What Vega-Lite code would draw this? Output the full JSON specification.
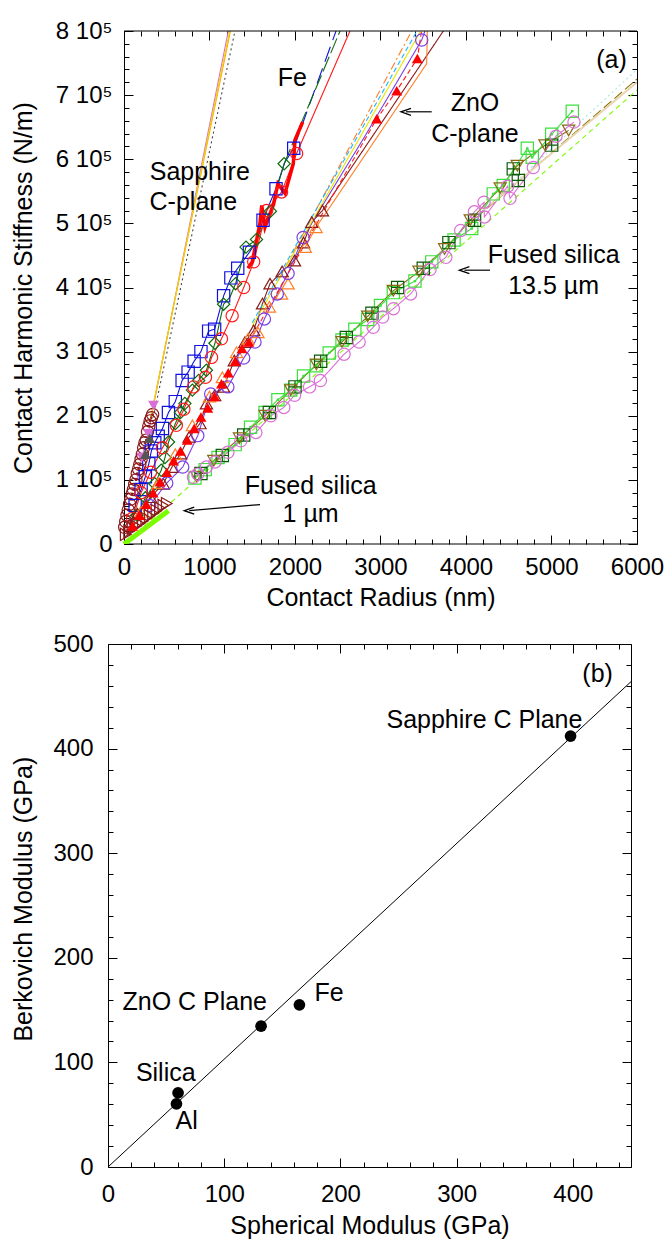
{
  "$schema": "https://vega.github.io/schema/vega-lite/v6.json",
  "padding": {"left": 11, "top": 19, "right": 0, "bottom": 0},
  "autosize": {"type": "pad"},
  "spacing": 21,
  "config": {
    "font": "Liberation Sans",
    "view": {"stroke": null},
    "axis": {
      "labelFont": "Liberation Sans", "titleFont": "Liberation Sans",
      "labelFontSize": 24, "titleFontSize": 25, "titleFontWeight": "normal",
      "labelColor": "#000", "titleColor": "#000", "domainColor": "#000", "tickColor": "#000",
      "grid": false, "tickWidth": 1, "domainWidth": 1, "labelOverlap": false, "labelFlush": false
    },
    "text": {"font": "Liberation Sans", "fontSize": 25, "color": "#000", "baseline": "middle", "align": "center"}
  },
  "datasets": {
    "frameA": [{"x":0,"x2":6000,"y":0},{"x":0,"x2":6000,"y":800000}],
    "thin": [
      {"series":"SapPink","x":150,"y":100000},{"series":"SapPink","x":209,"y":135000},{"series":"SapPink","x":285,"y":172000},{"series":"SapPink","x":345,"y":216000},{"series":"SapPink","x":1220,"y":800000},
      {"series":"SapOrange","x":300,"y":190000},{"series":"SapOrange","x":1245,"y":800000},
      {"series":"SapYellow","x":310,"y":195000},{"series":"SapYellow","x":1235,"y":800000},
      {"series":"SapGray","x":330,"y":190000},{"series":"SapGray","x":1298,"y":800000},
      {"series":"FeBlue","x":130,"y":60000},{"series":"FeBlue","x":200,"y":85000},{"series":"FeBlue","x":250,"y":105000},{"series":"FeBlue","x":290,"y":125000},{"series":"FeBlue","x":320,"y":145000},{"series":"FeBlue","x":360,"y":158000},{"series":"FeBlue","x":400,"y":168000},{"series":"FeBlue","x":450,"y":180000},{"series":"FeBlue","x":520,"y":205000},{"series":"FeBlue","x":600,"y":222000},{"series":"FeBlue","x":680,"y":255000},{"series":"FeBlue","x":750,"y":268000},{"series":"FeBlue","x":820,"y":285000},{"series":"FeBlue","x":900,"y":300000},{"series":"FeBlue","x":990,"y":332000},{"series":"FeBlue","x":1060,"y":335000},{"series":"FeBlue","x":1165,"y":387000},{"series":"FeBlue","x":1250,"y":415000},{"series":"FeBlue","x":1330,"y":430000},{"series":"FeBlue","x":1467,"y":455000},{"series":"FeBlue","x":1540,"y":470000},{"series":"FeBlue","x":1626,"y":505000},{"series":"FeBlue","x":1700,"y":530000},{"series":"FeBlue","x":1778,"y":554000},{"series":"FeBlue","x":1880,"y":595000},{"series":"FeBlue","x":1985,"y":617000},
      {"series":"FeBlueFit","x":1985,"y":617000},{"series":"FeBlueFit","x":2480,"y":800000},
      {"series":"FeGreen","x":150,"y":45000},{"series":"FeGreen","x":250,"y":72000},{"series":"FeGreen","x":360,"y":94000},{"series":"FeGreen","x":435,"y":115000},{"series":"FeGreen","x":480,"y":135000},{"series":"FeGreen","x":521,"y":159000},{"series":"FeGreen","x":601,"y":188000},{"series":"FeGreen","x":660,"y":205000},{"series":"FeGreen","x":712,"y":219000},{"series":"FeGreen","x":800,"y":240000},{"series":"FeGreen","x":873,"y":255000},{"series":"FeGreen","x":964,"y":271000},{"series":"FeGreen","x":1064,"y":313000},{"series":"FeGreen","x":1165,"y":374000},{"series":"FeGreen","x":1240,"y":385000},{"series":"FeGreen","x":1305,"y":406000},{"series":"FeGreen","x":1427,"y":463000},{"series":"FeGreen","x":1550,"y":475000},{"series":"FeGreen","x":1640,"y":500000},{"series":"FeGreen","x":1712,"y":519000},{"series":"FeGreen","x":1800,"y":560000},{"series":"FeGreen","x":1873,"y":593000},
      {"series":"FeGreenFit","x":1873,"y":593000},{"series":"FeGreenFit","x":2527,"y":800000},
      {"series":"FeRed","x":100,"y":40000},{"series":"FeRed","x":200,"y":80000},{"series":"FeRed","x":310,"y":112000},{"series":"FeRed","x":450,"y":150000},{"series":"FeRed","x":612,"y":185000},{"series":"FeRed","x":700,"y":210000},{"series":"FeRed","x":813,"y":245000},{"series":"FeRed","x":953,"y":260000},{"series":"FeRed","x":1024,"y":291000},{"series":"FeRed","x":1140,"y":320000},{"series":"FeRed","x":1265,"y":356000},{"series":"FeRed","x":1400,"y":400000},{"series":"FeRed","x":1517,"y":440000},{"series":"FeRed","x":1668,"y":520000},{"series":"FeRed","x":1843,"y":549000},{"series":"FeRed","x":2019,"y":609000},{"series":"FeRed","x":2643,"y":800000},
      {"series":"ZnMaroon","x":60,"y":30000},{"series":"ZnMaroon","x":159,"y":47000},{"series":"ZnMaroon","x":310,"y":73000},{"series":"ZnMaroon","x":461,"y":94000},{"series":"ZnMaroon","x":561,"y":120000},{"series":"ZnMaroon","x":662,"y":141000},{"series":"ZnMaroon","x":762,"y":167000},{"series":"ZnMaroon","x":889,"y":188000},{"series":"ZnMaroon","x":964,"y":219000},{"series":"ZnMaroon","x":1060,"y":232000},{"series":"ZnMaroon","x":1165,"y":245000},{"series":"ZnMaroon","x":1290,"y":286000},{"series":"ZnMaroon","x":1415,"y":315000},{"series":"ZnMaroon","x":1517,"y":333000},{"series":"ZnMaroon","x":1620,"y":375000},{"series":"ZnMaroon","x":1708,"y":406000},{"series":"ZnMaroon","x":1850,"y":425000},{"series":"ZnMaroon","x":1994,"y":442000},{"series":"ZnMaroon","x":2100,"y":470000},{"series":"ZnMaroon","x":2196,"y":502000},{"series":"ZnMaroon","x":2321,"y":520000},{"series":"ZnMaroon","x":3735,"y":800000},
      {"series":"ZnOrange","x":2120,"y":463000},{"series":"ZnOrange","x":2246,"y":494000},{"series":"ZnOrange","x":2411,"y":526000},{"series":"ZnOrange","x":3540,"y":749000},{"series":"ZnOrange","x":3548,"y":800000},
      {"series":"ZnOrangeDD","x":1800,"y":410000},{"series":"ZnOrangeDD","x":3365,"y":800000},
      {"series":"ZnPurple","x":300,"y":60000},{"series":"ZnPurple","x":500,"y":95000},{"series":"ZnPurple","x":687,"y":120000},{"series":"ZnPurple","x":863,"y":169000},{"series":"ZnPurple","x":1014,"y":234000},{"series":"ZnPurple","x":1215,"y":245000},{"series":"ZnPurple","x":1400,"y":290000},{"series":"ZnPurple","x":1532,"y":315000},{"series":"ZnPurple","x":1642,"y":351000},{"series":"ZnPurple","x":1793,"y":390000},{"series":"ZnPurple","x":1919,"y":422000},{"series":"ZnPurple","x":2095,"y":478000},{"series":"ZnPurple","x":2400,"y":545000},{"series":"ZnPurple","x":2800,"y":632000},{"series":"ZnPurple","x":3200,"y":722000},{"series":"ZnPurple","x":3482,"y":786000},{"series":"ZnPurple","x":3520,"y":800000},
      {"series":"ZnRedDash","x":1460,"y":315000},{"series":"ZnRedDash","x":2956,"y":663000},{"series":"ZnRedDash","x":3190,"y":707000},{"series":"ZnRedDash","x":3431,"y":757000},{"series":"ZnRedDash","x":3480,"y":800000},
      {"series":"ZnCyan","x":1500,"y":345000},{"series":"ZnCyan","x":3427,"y":800000},
      {"series":"ZnYellow","x":1500,"y":340000},{"series":"ZnYellow","x":3470,"y":800000},
      {"series":"FSGreenDash","x":0,"y":0},{"series":"FSGreenDash","x":6000,"y":708000},
      {"series":"FSCyanDot","x":3000,"y":370000},{"series":"FSCyanDot","x":6000,"y":740000},
      {"series":"FSOlive","x":4000,"y":495000},{"series":"FSOlive","x":6000,"y":725000},
      {"series":"FSBrown","x":850,"y":105000},{"series":"FSBrown","x":1050,"y":130000},{"series":"FSBrown","x":1350,"y":165000},{"series":"FSBrown","x":1650,"y":200000},{"series":"FSBrown","x":1950,"y":240000},{"series":"FSBrown","x":2250,"y":280000},{"series":"FSBrown","x":2550,"y":315000},{"series":"FSBrown","x":2850,"y":355000},{"series":"FSBrown","x":3150,"y":395000},{"series":"FSBrown","x":3450,"y":425000},{"series":"FSBrown","x":3750,"y":460000},{"series":"FSBrown","x":4050,"y":505000},{"series":"FSBrown","x":4400,"y":555000},{"series":"FSBrown","x":4600,"y":590000},{"series":"FSBrown","x":4924,"y":622000},{"series":"FSBrown","x":5200,"y":645000},
      {"series":"FSPink","x":813,"y":104000},{"series":"FSPink","x":863,"y":109000},{"series":"FSPink","x":964,"y":120000},{"series":"FSPink","x":1064,"y":128000},{"series":"FSPink","x":1215,"y":143000},{"series":"FSPink","x":1366,"y":161000},{"series":"FSPink","x":1542,"y":174000},{"series":"FSPink","x":1718,"y":200000},{"series":"FSPink","x":1869,"y":213000},{"series":"FSPink","x":1995,"y":232000},{"series":"FSPink","x":2170,"y":245000},{"series":"FSPink","x":2297,"y":255000},{"series":"FSPink","x":2574,"y":296000},{"series":"FSPink","x":2750,"y":315000},{"series":"FSPink","x":2915,"y":338000},{"series":"FSPink","x":3025,"y":354000},{"series":"FSPink","x":3151,"y":367000},{"series":"FSPink","x":3352,"y":390000},{"series":"FSPink","x":3579,"y":428000},{"series":"FSPink","x":3764,"y":447000},{"series":"FSPink","x":3938,"y":489000},{"series":"FSPink","x":4098,"y":518000},{"series":"FSPink","x":4211,"y":533000},{"series":"FSPink","x":4215,"y":510000},{"series":"FSPink","x":4487,"y":558000},{"series":"FSPink","x":4515,"y":539000},{"series":"FSPink","x":4787,"y":587000},{"series":"FSPink","x":5053,"y":636000},{"series":"FSPink","x":5263,"y":658000},
      {"series":"FSGreen","x":830,"y":103000},{"series":"FSGreen","x":950,"y":116000},{"series":"FSGreen","x":1100,"y":135000},{"series":"FSGreen","x":1300,"y":155000},{"series":"FSGreen","x":1480,"y":182000},{"series":"FSGreen","x":1650,"y":205000},{"series":"FSGreen","x":1800,"y":225000},{"series":"FSGreen","x":1950,"y":240000},{"series":"FSGreen","x":2100,"y":262000},{"series":"FSGreen","x":2250,"y":278000},{"series":"FSGreen","x":2400,"y":298000},{"series":"FSGreen","x":2550,"y":318000},{"series":"FSGreen","x":2700,"y":335000},{"series":"FSGreen","x":2850,"y":350000},{"series":"FSGreen","x":3000,"y":372000},{"series":"FSGreen","x":3150,"y":392000},{"series":"FSGreen","x":3403,"y":410000},{"series":"FSGreen","x":3600,"y":440000},{"series":"FSGreen","x":3860,"y":474000},{"series":"FSGreen","x":4067,"y":492000},{"series":"FSGreen","x":4319,"y":546000},{"series":"FSGreen","x":4436,"y":559000},{"series":"FSGreen","x":4717,"y":617000},{"series":"FSGreen","x":4775,"y":603000},{"series":"FSGreen","x":5002,"y":639000},{"series":"FSGreen","x":5243,"y":675000}
    ],
    "thick": [
      {"series":"FeRedThick","x":1450,"y":430000},{"series":"FeRedThick","x":1500,"y":440000},{"series":"FeRedThick","x":1590,"y":500000},{"series":"FeRedThick","x":1611,"y":528000},{"series":"FeRedThick","x":1649,"y":494000},{"series":"FeRedThick","x":1750,"y":530000},{"series":"FeRedThick","x":1800,"y":562000},{"series":"FeRedThick","x":1883,"y":547000},{"series":"FeRedThick","x":1980,"y":593000},{"series":"FeRedThick","x":2000,"y":630000},{"series":"FeRedThick","x":2090,"y":658000},
      {"series":"FS1Lime","x":0,"y":0},{"series":"FS1Lime","x":520,"y":52000},
      {"series":"FSTan","x":4200,"y":520000},{"series":"FSTan","x":6000,"y":720000}
    ],
    "open": [
      {"series":"SapCirc","x":8,"y":26000},{"series":"SapCirc","x":20,"y":35000},{"series":"SapCirc","x":35,"y":45000},{"series":"SapCirc","x":50,"y":53000},{"series":"SapCirc","x":65,"y":62000},{"series":"SapCirc","x":80,"y":70000},{"series":"SapCirc","x":95,"y":78000},{"series":"SapCirc","x":110,"y":85000},{"series":"SapCirc","x":125,"y":93000},{"series":"SapCirc","x":140,"y":100000},{"series":"SapCirc","x":155,"y":110000},{"series":"SapCirc","x":170,"y":117000},{"series":"SapCirc","x":185,"y":124000},{"series":"SapCirc","x":200,"y":132000},{"series":"SapCirc","x":215,"y":140000},{"series":"SapCirc","x":230,"y":150000},{"series":"SapCirc","x":245,"y":158000},{"series":"SapCirc","x":260,"y":162000},{"series":"SapCirc","x":275,"y":175000},{"series":"SapCirc","x":290,"y":184000},{"series":"SapCirc","x":305,"y":192000},{"series":"SapCirc","x":320,"y":197000},{"series":"SapCirc","x":335,"y":202000},
      {"series":"FeSq","x":130,"y":60000},{"series":"FeSq","x":200,"y":85000},{"series":"FeSq","x":250,"y":105000},{"series":"FeSq","x":290,"y":125000},{"series":"FeSq","x":320,"y":145000},{"series":"FeSq","x":360,"y":158000},{"series":"FeSq","x":400,"y":168000},{"series":"FeSq","x":450,"y":180000},{"series":"FeSq","x":520,"y":205000},{"series":"FeSq","x":600,"y":222000},{"series":"FeSq","x":680,"y":255000},{"series":"FeSq","x":750,"y":268000},{"series":"FeSq","x":820,"y":285000},{"series":"FeSq","x":900,"y":300000},{"series":"FeSq","x":990,"y":332000},{"series":"FeSq","x":1060,"y":335000},{"series":"FeSq","x":1165,"y":387000},{"series":"FeSq","x":1250,"y":415000},{"series":"FeSq","x":1330,"y":430000},{"series":"FeSq","x":1467,"y":455000},{"series":"FeSq","x":1626,"y":505000},{"series":"FeSq","x":1778,"y":554000},{"series":"FeSq","x":1985,"y":617000},
      {"series":"FeDia","x":150,"y":45000},{"series":"FeDia","x":250,"y":72000},{"series":"FeDia","x":360,"y":94000},{"series":"FeDia","x":435,"y":115000},{"series":"FeDia","x":480,"y":135000},{"series":"FeDia","x":521,"y":159000},{"series":"FeDia","x":601,"y":188000},{"series":"FeDia","x":660,"y":205000},{"series":"FeDia","x":712,"y":219000},{"series":"FeDia","x":800,"y":240000},{"series":"FeDia","x":873,"y":255000},{"series":"FeDia","x":964,"y":271000},{"series":"FeDia","x":1064,"y":313000},{"series":"FeDia","x":1165,"y":374000},{"series":"FeDia","x":1305,"y":406000},{"series":"FeDia","x":1427,"y":463000},{"series":"FeDia","x":1550,"y":475000},{"series":"FeDia","x":1712,"y":519000},{"series":"FeDia","x":1873,"y":593000},
      {"series":"FeCirc","x":100,"y":40000},{"series":"FeCirc","x":200,"y":80000},{"series":"FeCirc","x":310,"y":112000},{"series":"FeCirc","x":450,"y":150000},{"series":"FeCirc","x":612,"y":185000},{"series":"FeCirc","x":700,"y":210000},{"series":"FeCirc","x":813,"y":245000},{"series":"FeCirc","x":953,"y":260000},{"series":"FeCirc","x":1024,"y":291000},{"series":"FeCirc","x":1140,"y":320000},{"series":"FeCirc","x":1265,"y":356000},{"series":"FeCirc","x":1400,"y":400000},{"series":"FeCirc","x":1517,"y":440000},{"series":"FeCirc","x":1668,"y":520000},{"series":"FeCirc","x":1843,"y":549000},{"series":"FeCirc","x":2019,"y":609000},
      {"series":"ZnMaroonTri","x":60,"y":30000},{"series":"ZnMaroonTri","x":159,"y":47000},{"series":"ZnMaroonTri","x":310,"y":73000},{"series":"ZnMaroonTri","x":461,"y":94000},{"series":"ZnMaroonTri","x":561,"y":120000},{"series":"ZnMaroonTri","x":662,"y":141000},{"series":"ZnMaroonTri","x":762,"y":167000},{"series":"ZnMaroonTri","x":889,"y":188000},{"series":"ZnMaroonTri","x":964,"y":219000},{"series":"ZnMaroonTri","x":1060,"y":232000},{"series":"ZnMaroonTri","x":1165,"y":245000},{"series":"ZnMaroonTri","x":1290,"y":286000},{"series":"ZnMaroonTri","x":1415,"y":315000},{"series":"ZnMaroonTri","x":1517,"y":333000},{"series":"ZnMaroonTri","x":1620,"y":375000},{"series":"ZnMaroonTri","x":1708,"y":406000},{"series":"ZnMaroonTri","x":1850,"y":425000},{"series":"ZnMaroonTri","x":1994,"y":442000},{"series":"ZnMaroonTri","x":2100,"y":470000},{"series":"ZnMaroonTri","x":2196,"y":502000},{"series":"ZnMaroonTri","x":2321,"y":520000},
      {"series":"ZnOrangeTri","x":200,"y":50000},{"series":"ZnOrangeTri","x":400,"y":95000},{"series":"ZnOrangeTri","x":600,"y":140000},{"series":"ZnOrangeTri","x":800,"y":185000},{"series":"ZnOrangeTri","x":1000,"y":230000},{"series":"ZnOrangeTri","x":1150,"y":260000},{"series":"ZnOrangeTri","x":1316,"y":299000},{"series":"ZnOrangeTri","x":1450,"y":320000},{"series":"ZnOrangeTri","x":1567,"y":330000},{"series":"ZnOrangeTri","x":1700,"y":370000},{"series":"ZnOrangeTri","x":1843,"y":390000},{"series":"ZnOrangeTri","x":1919,"y":406000},{"series":"ZnOrangeTri","x":2120,"y":463000},{"series":"ZnOrangeTri","x":2246,"y":494000},
      {"series":"ZnPurpleCirc","x":300,"y":60000},{"series":"ZnPurpleCirc","x":500,"y":95000},{"series":"ZnPurpleCirc","x":687,"y":120000},{"series":"ZnPurpleCirc","x":863,"y":169000},{"series":"ZnPurpleCirc","x":1014,"y":234000},{"series":"ZnPurpleCirc","x":1215,"y":245000},{"series":"ZnPurpleCirc","x":1400,"y":290000},{"series":"ZnPurpleCirc","x":1532,"y":315000},{"series":"ZnPurpleCirc","x":1642,"y":351000},{"series":"ZnPurpleCirc","x":1793,"y":390000},{"series":"ZnPurpleCirc","x":1919,"y":422000},{"series":"ZnPurpleCirc","x":2095,"y":478000},{"series":"ZnPurpleCirc","x":3482,"y":786000},
      {"series":"FSGreenSq","x":830,"y":103000},{"series":"FSGreenSq","x":950,"y":116000},{"series":"FSGreenSq","x":1100,"y":135000},{"series":"FSGreenSq","x":1300,"y":155000},{"series":"FSGreenSq","x":1480,"y":182000},{"series":"FSGreenSq","x":1650,"y":205000},{"series":"FSGreenSq","x":1800,"y":225000},{"series":"FSGreenSq","x":1950,"y":240000},{"series":"FSGreenSq","x":2100,"y":262000},{"series":"FSGreenSq","x":2250,"y":278000},{"series":"FSGreenSq","x":2400,"y":298000},{"series":"FSGreenSq","x":2550,"y":318000},{"series":"FSGreenSq","x":2700,"y":335000},{"series":"FSGreenSq","x":2850,"y":350000},{"series":"FSGreenSq","x":3000,"y":372000},{"series":"FSGreenSq","x":3150,"y":392000},{"series":"FSGreenSq","x":3403,"y":410000},{"series":"FSGreenSq","x":3600,"y":440000},{"series":"FSGreenSq","x":3860,"y":474000},{"series":"FSGreenSq","x":4067,"y":492000},{"series":"FSGreenSq","x":4319,"y":546000},{"series":"FSGreenSq","x":4436,"y":559000},{"series":"FSGreenSq","x":4717,"y":617000},{"series":"FSGreenSq","x":4775,"y":603000},{"series":"FSGreenSq","x":5002,"y":639000},{"series":"FSGreenSq","x":5243,"y":675000},
      {"series":"FSDkGreen","x":900,"y":110000},{"series":"FSDkGreen","x":1150,"y":138000},{"series":"FSDkGreen","x":1400,"y":170000},{"series":"FSDkGreen","x":1700,"y":205000},{"series":"FSDkGreen","x":2000,"y":245000},{"series":"FSDkGreen","x":2300,"y":285000},{"series":"FSDkGreen","x":2600,"y":322000},{"series":"FSDkGreen","x":2900,"y":360000},{"series":"FSDkGreen","x":3200,"y":400000},{"series":"FSDkGreen","x":3500,"y":430000},{"series":"FSDkGreen","x":3800,"y":470000},{"series":"FSDkGreen","x":4100,"y":505000},{"series":"FSDkGreen","x":4553,"y":585000},{"series":"FSDkGreen","x":4612,"y":567000},{"series":"FSDkGreen","x":5002,"y":622000},
      {"series":"FSBrownTri","x":850,"y":105000},{"series":"FSBrownTri","x":1050,"y":130000},{"series":"FSBrownTri","x":1350,"y":165000},{"series":"FSBrownTri","x":1650,"y":200000},{"series":"FSBrownTri","x":1950,"y":240000},{"series":"FSBrownTri","x":2250,"y":280000},{"series":"FSBrownTri","x":2550,"y":315000},{"series":"FSBrownTri","x":2850,"y":355000},{"series":"FSBrownTri","x":3150,"y":395000},{"series":"FSBrownTri","x":3450,"y":425000},{"series":"FSBrownTri","x":3750,"y":460000},{"series":"FSBrownTri","x":4050,"y":505000},{"series":"FSBrownTri","x":4400,"y":555000},{"series":"FSBrownTri","x":4600,"y":590000},{"series":"FSBrownTri","x":4924,"y":622000},{"series":"FSBrownTri","x":5200,"y":645000},
      {"series":"FSPinkCirc","x":813,"y":104000},{"series":"FSPinkCirc","x":863,"y":109000},{"series":"FSPinkCirc","x":964,"y":120000},{"series":"FSPinkCirc","x":1064,"y":128000},{"series":"FSPinkCirc","x":1215,"y":143000},{"series":"FSPinkCirc","x":1366,"y":161000},{"series":"FSPinkCirc","x":1542,"y":174000},{"series":"FSPinkCirc","x":1718,"y":200000},{"series":"FSPinkCirc","x":1869,"y":213000},{"series":"FSPinkCirc","x":1995,"y":232000},{"series":"FSPinkCirc","x":2170,"y":245000},{"series":"FSPinkCirc","x":2297,"y":255000},{"series":"FSPinkCirc","x":2574,"y":296000},{"series":"FSPinkCirc","x":2750,"y":315000},{"series":"FSPinkCirc","x":2915,"y":338000},{"series":"FSPinkCirc","x":3025,"y":354000},{"series":"FSPinkCirc","x":3151,"y":367000},{"series":"FSPinkCirc","x":3352,"y":390000},{"series":"FSPinkCirc","x":3579,"y":428000},{"series":"FSPinkCirc","x":3764,"y":447000},{"series":"FSPinkCirc","x":3938,"y":489000},{"series":"FSPinkCirc","x":4098,"y":518000},{"series":"FSPinkCirc","x":4211,"y":533000},{"series":"FSPinkCirc","x":4215,"y":510000},{"series":"FSPinkCirc","x":4487,"y":558000},{"series":"FSPinkCirc","x":4515,"y":539000},{"series":"FSPinkCirc","x":4787,"y":587000},{"series":"FSPinkCirc","x":5053,"y":636000},{"series":"FSPinkCirc","x":5263,"y":658000},
      {"series":"FS1MaroonTri","x":20,"y":15000},{"series":"FS1MaroonTri","x":60,"y":20000},{"series":"FS1MaroonTri","x":100,"y":25000},{"series":"FS1MaroonTri","x":140,"y":28000},{"series":"FS1MaroonTri","x":180,"y":32000},{"series":"FS1MaroonTri","x":220,"y":36000},{"series":"FS1MaroonTri","x":260,"y":40000},{"series":"FS1MaroonTri","x":300,"y":44000},{"series":"FS1MaroonTri","x":340,"y":48000},{"series":"FS1MaroonTri","x":380,"y":52000},{"series":"FS1MaroonTri","x":420,"y":56000},{"series":"FS1MaroonTri","x":460,"y":60000},{"series":"FS1MaroonTri","x":500,"y":63000}
    ],
    "filled": [
      {"series":"SapPinkTri","x":209,"y":135000},{"series":"SapPinkTri","x":285,"y":172000},{"series":"SapPinkTri","x":345,"y":216000},
      {"series":"SapGrayTri","x":250,"y":140000},{"series":"SapGrayTri","x":300,"y":165000},
      {"series":"ZnRedTri","x":100,"y":28000},{"series":"ZnRedTri","x":180,"y":45000},{"series":"ZnRedTri","x":260,"y":62000},{"series":"ZnRedTri","x":340,"y":80000},{"series":"ZnRedTri","x":420,"y":97000},{"series":"ZnRedTri","x":500,"y":112000},{"series":"ZnRedTri","x":580,"y":130000},{"series":"ZnRedTri","x":660,"y":145000},{"series":"ZnRedTri","x":740,"y":162000},{"series":"ZnRedTri","x":820,"y":180000},{"series":"ZnRedTri","x":900,"y":198000},{"series":"ZnRedTri","x":980,"y":212000},{"series":"ZnRedTri","x":1060,"y":230000},{"series":"ZnRedTri","x":1140,"y":250000},{"series":"ZnRedTri","x":1220,"y":267000},{"series":"ZnRedTri","x":1300,"y":285000},{"series":"ZnRedTri","x":1380,"y":305000},{"series":"ZnRedTri","x":1460,"y":315000},{"series":"ZnRedTri","x":2956,"y":663000},{"series":"ZnRedTri","x":3190,"y":707000},{"series":"ZnRedTri","x":3431,"y":757000}
    ],
    "arrows": [
      {"x":3298,"y":674000,"x2":3599,"y2":674000},
      {"x":3981,"y":427000,"x2":4281,"y2":427000},
      {"x":763,"y":52000,"x2":1591,"y2":61500}
    ],
    "annoA": [
      {"label":"Fe","x":1969,"y":726000},
      {"label":"Sapphire","x":886,"y":580000},
      {"label":"C-plane","x":811,"y":533000},
      {"label":"ZnO","x":4105,"y":687000},
      {"label":"C-plane","x":4105,"y":640000},
      {"label":"(a)","x":5702,"y":754000},
      {"label":"Fused silica","x":5025,"y":450000},
      {"label":"13.5 µm","x":5025,"y":403000},
      {"label":"Fused silica","x":2183,"y":91000},
      {"label":"1 µm","x":2183,"y":47000}
    ],
    "bline": [{"x":0,"y":0},{"x":450,"y":464}],
    "bpts": [
      {"material":"Sapphire C Plane","x":398,"y":412},
      {"material":"ZnO C Plane","x":131.7,"y":134.6},
      {"material":"Fe","x":164.7,"y":155},
      {"material":"Silica","x":60.3,"y":70.9},
      {"material":"Al","x":58.9,"y":60.4}
    ],
    "btext": [
      {"label":"Sapphire C Plane","x":323.9,"y":427},
      {"label":"(b)","x":421.3,"y":471.5},
      {"label":"ZnO C Plane","x":74.6,"y":157.6},
      {"label":"Fe","x":190.2,"y":166},
      {"label":"Silica","x":49.7,"y":89.7},
      {"label":"Al","x":67.7,"y":43.8}
    ]
  },
  "vconcat": [
    {
      "width": 529,
      "height": 513,
      "resolve": {"axis": {"x": "independent", "y": "independent"}, "scale": {"color": "independent", "shape": "independent", "strokeDash": "independent"}},
      "layer": [
        {
          "data": {"name": "thin"},
          "mark": {"type": "line", "strokeWidth": 1.1, "clip": true},
          "encoding": {
            "x": {"field": "x", "type": "quantitative", "scale": {"domain": [-187.1, 6000], "nice": false, "zero": false},
              "axis": {"orient": "bottom", "domain": false, "values": [0,200,400,600,800,1000,1200,1400,1600,1800,2000,2200,2400,2600,2800,3000,3200,3400,3600,3800,4000,4200,4400,4600,4800,5000,5200,5400,5600,5800,6000],
                "format": "d", "labelExpr": "datum.value % 1000 === 0 ? datum.label : ''",
                "tickSize": {"condition": {"test": "datum.value % 1000 === 0", "value": -9}, "value": -5},
                "labelPadding": 20, "title": "Contact Radius (nm)", "titleX": 272.5, "titleY": 53.5, "titleBaseline": "middle"}},
            "y": {"field": "y", "type": "quantitative", "scale": {"domain": [0, 800000], "nice": false, "zero": false},
              "axis": {"orient": "left", "offset": -16, "values": [0,20000,40000,60000,80000,100000,120000,140000,160000,180000,200000,220000,240000,260000,280000,300000,320000,340000,360000,380000,400000,420000,440000,460000,480000,500000,520000,540000,560000,580000,600000,620000,640000,660000,680000,700000,720000,740000,760000,780000,800000],
                "labelExpr": "datum.value === 0 ? '0' : (datum.value % 100000 === 0 ? (datum.value / 100000) + ' 10⁵' : '')",
                "tickSize": {"condition": {"test": "datum.value % 100000 === 0", "value": -9}, "value": -5},
                "labelPadding": 21, "title": "Contact Harmonic Stiffness (N/m)", "titleX": -100.5, "titleBaseline": "middle"}},
            "color": {"field": "series", "type": "nominal", "legend": null,
              "scale": {"domain": ["SapPink","SapOrange","SapYellow","SapGray","FeBlue","FeBlueFit","FeGreen","FeGreenFit","FeRed","ZnMaroon","ZnOrange","ZnOrangeDD","ZnPurple","ZnRedDash","ZnCyan","ZnYellow","FSGreenDash","FSCyanDot","FSOlive","FSBrown","FSPink","FSGreen"],
                "range": ["#DA70D6","#FFA500","#EED400","#444444","#1010E0","#1010E0","#0E6B0E","#0E6B0E","#FF1A1A","#8B1A1A","#FF7F27","#FF7F27","#7B3FE4","#FF1A1A","#1EB4FF","#E6E600","#7CFC00","#A8E8E8","#8B7500","#8B6914","#DA70D6","#3BE03B"]}},
            "strokeDash": {"field": "series", "type": "nominal", "legend": null,
              "scale": {"domain": ["SapPink","SapOrange","SapYellow","SapGray","FeBlue","FeBlueFit","FeGreen","FeGreenFit","FeRed","ZnMaroon","ZnOrange","ZnOrangeDD","ZnPurple","ZnRedDash","ZnCyan","ZnYellow","FSGreenDash","FSCyanDot","FSOlive","FSBrown","FSPink","FSGreen"],
                "range": [[1,0],[1,0],[1,0],[2,3],[1,0],[16,7],[1,0],[16,4],[1,0],[1,0],[1,0],[8,3,2,3],[1,0],[5,3],[5,3],[1,0],[5,4],[2,3],[10,4],[1,0],[1,0],[1,0]]}}
          }
        },
        {
          "data": {"name": "frameA"},
          "mark": {"type": "rule", "color": "#000", "strokeWidth": 1},
          "encoding": {
            "x": {"field": "x", "type": "quantitative", "axis": null},
            "x2": {"field": "x2"},
            "y": {"field": "y", "type": "quantitative", "axis": null}
          }
        },
        {
          "data": {"name": "thick"},
          "transform": [{"filter": "datum.series === 'FeRedThick'"}],
          "mark": {"type": "line", "strokeWidth": 3.5, "color": "#FF0000", "clip": true},
          "encoding": {"x": {"field": "x", "type": "quantitative", "axis": null}, "y": {"field": "y", "type": "quantitative", "axis": null}}
        },
        {
          "data": {"name": "thick"},
          "transform": [{"filter": "datum.series === 'FS1Lime'"}],
          "mark": {"type": "line", "strokeWidth": 5, "color": "#7CFC00", "clip": true},
          "encoding": {"x": {"field": "x", "type": "quantitative", "axis": null}, "y": {"field": "y", "type": "quantitative", "axis": null}}
        },
        {
          "data": {"name": "thick"},
          "transform": [{"filter": "datum.series === 'FSTan'"}],
          "mark": {"type": "line", "strokeWidth": 2, "color": "#E8D4B0", "clip": true},
          "encoding": {"x": {"field": "x", "type": "quantitative", "axis": null}, "y": {"field": "y", "type": "quantitative", "axis": null}}
        },
        {
          "data": {"name": "open"},
          "mark": {"type": "point", "filled": false, "size": 150, "strokeWidth": 1.2, "opacity": 1},
          "encoding": {
            "x": {"field": "x", "type": "quantitative", "axis": null},
            "y": {"field": "y", "type": "quantitative", "axis": null},
            "color": {"field": "series", "type": "nominal", "legend": null,
              "scale": {"domain": ["SapCirc","FeSq","FeDia","FeCirc","ZnMaroonTri","ZnOrangeTri","ZnPurpleCirc","FSGreenSq","FSDkGreen","FSBrownTri","FSPinkCirc","FS1MaroonTri"],
                "range": ["#8B1A1A","#1010E0","#0E6B0E","#FF1A1A","#8B1A1A","#FF7F27","#7B3FE4","#3BE03B","#0A5A0A","#8B6914","#DA70D6","#8B1A1A"]}},
            "shape": {"field": "series", "type": "nominal", "legend": null,
              "scale": {"domain": ["SapCirc","FeSq","FeDia","FeCirc","ZnMaroonTri","ZnOrangeTri","ZnPurpleCirc","FSGreenSq","FSDkGreen","FSBrownTri","FSPinkCirc","FS1MaroonTri"],
                "range": ["M-1,0A1,1,0,1,1,1,0A1,1,0,1,1,-1,0ZM-0.12,0A0.12,0.12,0,1,1,0.12,0A0.12,0.12,0,1,1,-0.12,0Z","square","diamond","circle","triangle-up","triangle-up","circle","M-1,-1H1V1H-1ZM-0.1,-0.1H0.1V0.1H-0.1Z","M-1,-1H1V1H-1ZM0,-1V1M-1,0H1","triangle-down","circle","triangle-right"]}}
          }
        },
        {
          "data": {"name": "filled"},
          "mark": {"type": "point", "filled": true, "size": 120, "opacity": 1},
          "encoding": {
            "x": {"field": "x", "type": "quantitative", "axis": null},
            "y": {"field": "y", "type": "quantitative", "axis": null},
            "color": {"field": "series", "type": "nominal", "legend": null,
              "scale": {"domain": ["SapPinkTri","SapGrayTri","ZnRedTri"], "range": ["#DA70D6","#555555","#FF0000"]}},
            "shape": {"field": "series", "type": "nominal", "legend": null,
              "scale": {"domain": ["SapPinkTri","SapGrayTri","ZnRedTri"], "range": ["triangle-down","triangle-up","triangle-up"]}}
          }
        },
        {
          "data": {"name": "arrows"},
          "mark": {"type": "rule", "color": "#000", "strokeWidth": 1.2},
          "encoding": {
            "x": {"field": "x", "type": "quantitative", "axis": null},
            "y": {"field": "y", "type": "quantitative", "axis": null},
            "x2": {"field": "x2"},
            "y2": {"field": "y2"}
          }
        },
        {
          "data": {"name": "arrows"},
          "mark": {"type": "point", "filled": false, "color": "#000", "strokeWidth": 1.3, "size": 100, "shape": "M1,-0.7L-1,0L1,0.7", "opacity": 1},
          "encoding": {
            "x": {"field": "x", "type": "quantitative", "axis": null},
            "y": {"field": "y", "type": "quantitative", "axis": null}
          }
        },
        {
          "data": {"name": "annoA"},
          "mark": {"type": "text", "fontSize": 25},
          "encoding": {
            "x": {"field": "x", "type": "quantitative",
              "axis": {"orient": "top", "domain": false, "labels": false, "title": null, "values": [0,200,400,600,800,1000,1200,1400,1600,1800,2000,2200,2400,2600,2800,3000,3200,3400,3600,3800,4000,4200,4400,4600,4800,5000,5200,5400,5600,5800,6000],
                "tickSize": {"condition": {"test": "datum.value % 1000 === 0", "value": -9}, "value": -5}}},
            "y": {"field": "y", "type": "quantitative",
              "axis": {"orient": "right", "labels": false, "title": null, "values": [0,20000,40000,60000,80000,100000,120000,140000,160000,180000,200000,220000,240000,260000,280000,300000,320000,340000,360000,380000,400000,420000,440000,460000,480000,500000,520000,540000,560000,580000,600000,620000,640000,660000,680000,700000,720000,740000,760000,780000,800000],
                "tickSize": {"condition": {"test": "datum.value % 100000 === 0", "value": -9}, "value": -5}}},
            "text": {"field": "label"}
          }
        }
      ]
    },
    {
      "width": 523,
      "height": 523,
      "resolve": {"axis": {"x": "independent", "y": "independent"}},
      "layer": [
        {
          "data": {"name": "bline"},
          "mark": {"type": "line", "color": "#000", "strokeWidth": 1},
          "encoding": {
            "x": {"field": "x", "type": "quantitative", "scale": {"domain": [0, 450], "nice": false, "zero": false},
              "axis": {"orient": "bottom", "values": [0,20,40,60,80,100,120,140,160,180,200,220,240,260,280,300,320,340,360,380,400,420,440],
                "format": "d", "labelExpr": "datum.value % 100 === 0 ? datum.label : ''",
                "tickSize": {"condition": {"test": "datum.value % 100 === 0", "value": -9}, "value": -5},
                "labelPadding": 24, "title": "Spherical Modulus (GPa)", "titleY": 58.5, "titleBaseline": "middle"}},
            "y": {"field": "y", "type": "quantitative", "scale": {"domain": [0, 500], "nice": false, "zero": false},
              "axis": {"orient": "left", "values": [0,20,40,60,80,100,120,140,160,180,200,220,240,260,280,300,320,340,360,380,400,420,440,460,480,500],
                "format": "d", "labelExpr": "datum.value % 100 === 0 ? datum.label : ''",
                "tickSize": {"condition": {"test": "datum.value % 100 === 0", "value": -9}, "value": -5},
                "labelPadding": 24, "title": "Berkovich Modulus (GPa)", "titleX": -84.8, "titleY": 254.7, "titleBaseline": "middle"}}
          }
        },
        {
          "data": {"name": "bpts"},
          "mark": {"type": "point", "filled": true, "color": "#000", "size": 137, "opacity": 1},
          "encoding": {
            "x": {"field": "x", "type": "quantitative", "axis": null},
            "y": {"field": "y", "type": "quantitative", "axis": null}
          }
        },
        {
          "data": {"name": "btext"},
          "mark": {"type": "text", "fontSize": 25},
          "encoding": {
            "x": {"field": "x", "type": "quantitative",
              "axis": {"orient": "top", "labels": false, "title": null, "values": [0,20,40,60,80,100,120,140,160,180,200,220,240,260,280,300,320,340,360,380,400,420,440],
                "tickSize": {"condition": {"test": "datum.value % 100 === 0", "value": -9}, "value": -5}}},
            "y": {"field": "y", "type": "quantitative",
              "axis": {"orient": "right", "labels": false, "title": null, "values": [0,20,40,60,80,100,120,140,160,180,200,220,240,260,280,300,320,340,360,380,400,420,440,460,480,500],
                "tickSize": {"condition": {"test": "datum.value % 100 === 0", "value": -9}, "value": -5}}},
            "text": {"field": "label"}
          }
        }
      ]
    }
  ]
}
